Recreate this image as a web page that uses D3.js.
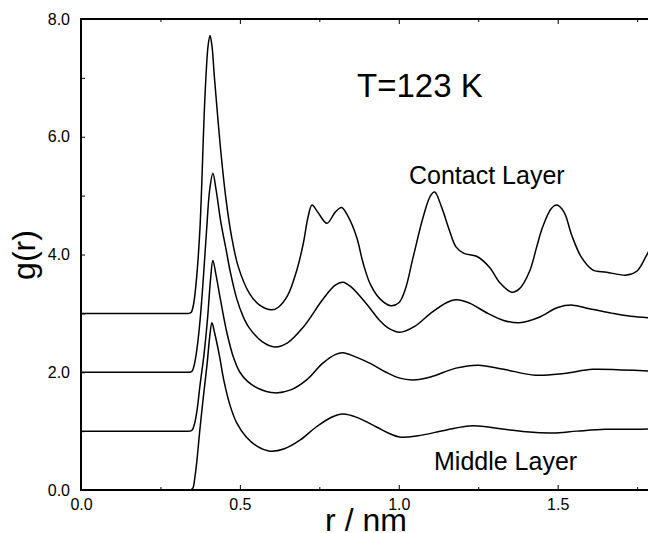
<!DOCTYPE html>
<html>
<head>
<meta charset="utf-8">
<script src="https://cdn.jsdelivr.net/npm/d3@7"></script>
<style>
	body { margin: 0; background: #fff; }
	svg { display: block; font-family: "Liberation Sans", Arial, Helvetica, sans-serif; }
	.tick line { stroke: #000; stroke-width: 1; }
	.tick text { font-size: 16px; fill: #000; }
</style>
</head>
<body>
<script>
// g(r) curves as drawn (each layer is shifted up by one unit)
const middleLayer = [
	[0, 0], [0.3, 0], [0.33, 0], [0.345, 0], [0.352, 0.03], [0.358, 0.2], [0.364, 0.46], [0.374, 1.02],
	[0.385, 1.58], [0.397, 2.15], [0.405, 2.6], [0.412, 2.84], [0.42, 2.68], [0.435, 2.3], [0.45, 1.85],
	[0.47, 1.42], [0.49, 1.14], [0.52, 0.9], [0.555, 0.74], [0.594, 0.66], [0.64, 0.7], [0.69, 0.85],
	[0.74, 1.07], [0.79, 1.24], [0.824, 1.29], [0.87, 1.23], [0.93, 1.07], [0.97, 0.96], [1.003, 0.9],
	[1.06, 0.92], [1.15, 1.02], [1.233, 1.09], [1.32, 1.04], [1.4, 0.99], [1.484, 0.97], [1.56, 1.0],
	[1.65, 1.03], [1.72, 1.03], [1.8, 1.04]
];
const layer2 = [
	[0, 1], [0.3, 1], [0.33, 1], [0.343, 1], [0.35, 1.02], [0.357, 1.12], [0.365, 1.35], [0.375, 1.8],
	[0.387, 2.3], [0.398, 2.9], [0.408, 3.6], [0.415, 3.9], [0.425, 3.65], [0.44, 3.2], [0.46, 2.65],
	[0.48, 2.25], [0.5, 2.0], [0.525, 1.84], [0.56, 1.72], [0.61, 1.65], [0.66, 1.7], [0.71, 1.87],
	[0.76, 2.15], [0.8, 2.3], [0.824, 2.33], [0.86, 2.27], [0.91, 2.15], [0.96, 2.0], [1.003, 1.9],
	[1.045, 1.87], [1.1, 1.92], [1.18, 2.07], [1.25, 2.12], [1.33, 2.05], [1.43, 1.95], [1.52, 1.98],
	[1.61, 2.05], [1.7, 2.04], [1.8, 2.02]
];
const layer3 = [
	[0, 2], [0.3, 2], [0.33, 2], [0.343, 2], [0.35, 2.02], [0.357, 2.14], [0.365, 2.4], [0.375, 2.9],
	[0.385, 3.6], [0.395, 4.4], [0.405, 5.1], [0.415, 5.38], [0.425, 5.1], [0.44, 4.55], [0.456, 4.1],
	[0.47, 3.7], [0.49, 3.25], [0.51, 2.95], [0.53, 2.75], [0.57, 2.52], [0.61, 2.43], [0.65, 2.5],
	[0.7, 2.77], [0.76, 3.23], [0.8, 3.48], [0.824, 3.53], [0.85, 3.45], [0.9, 3.15], [0.94, 2.88],
	[0.97, 2.74], [1.003, 2.68], [1.05, 2.78], [1.1, 3.0], [1.15, 3.18], [1.18, 3.23], [1.22, 3.18],
	[1.28, 3.0], [1.33, 2.88], [1.38, 2.84], [1.44, 2.93], [1.5, 3.1], [1.547, 3.14], [1.6, 3.08],
	[1.673, 3.0], [1.73, 2.95], [1.8, 2.92]
];
const contactLayer = [
	[0, 3], [0.3, 3], [0.33, 3], [0.34, 3], [0.347, 3.02], [0.354, 3.15], [0.362, 3.5], [0.374, 4.41],
	[0.39, 6.67], [0.4, 7.55], [0.406, 7.72], [0.412, 7.55], [0.42, 7.0], [0.44, 5.75], [0.456, 4.95],
	[0.474, 4.3], [0.495, 3.79], [0.53, 3.34], [0.56, 3.15], [0.6, 3.06], [0.62, 3.1], [0.65, 3.3],
	[0.68, 3.75], [0.7, 4.2], [0.715, 4.65], [0.727, 4.84], [0.745, 4.72], [0.774, 4.53], [0.8, 4.72],
	[0.82, 4.8], [0.84, 4.65], [0.867, 4.3], [0.888, 3.85], [0.91, 3.5], [0.94, 3.25], [0.975, 3.13],
	[1.0, 3.18], [1.02, 3.4], [1.045, 3.95], [1.077, 4.64], [1.1, 5.0], [1.113, 5.06], [1.135, 4.8],
	[1.16, 4.4], [1.18, 4.13], [1.205, 4.02], [1.245, 3.97], [1.286, 3.78], [1.318, 3.52], [1.355, 3.36],
	[1.38, 3.42], [1.412, 3.72], [1.434, 4.13], [1.453, 4.47], [1.48, 4.78], [1.497, 4.84], [1.52, 4.72],
	[1.544, 4.33], [1.575, 3.95], [1.61, 3.74], [1.654, 3.7], [1.717, 3.65], [1.75, 3.72], [1.78, 3.99],
	[1.8, 4.2]
];

const xMajor = [0, 0.5, 1.0, 1.5];
const xMinor = [0.25, 0.75, 1.25, 1.75];
const yMajor = [0, 2, 4, 6, 8];
const yMinor = [1, 3, 5, 7];

const width = 648;
const height = 533;
const plotLeft = 81, plotRight = 653, plotTop = 19, plotBottom = 490;

let x = d3.scaleLinear().domain([0, 1.8]).range([plotLeft, plotRight]);
let y = d3.scaleLinear().domain([0, 8]).range([plotBottom, plotTop]);

let svg = d3.select("body")
	.append("svg")
		.attr("width", width)
		.attr("height", height)

// AXES
function noDomain(g) {
	g.select(".domain").remove()
}

svg.append("g")
	.attr("transform", `translate(0,${plotBottom})`)
	.call(d3.axisBottom(x).tickValues(xMajor).tickSize(-5).tickPadding(9).tickFormat(d3.format(".1f")))
	.call(noDomain)
svg.append("g")
	.attr("transform", `translate(0,${plotBottom})`)
	.call(d3.axisBottom(x).tickValues(xMinor).tickSize(-3).tickFormat(""))
	.call(noDomain)
svg.append("g")
	.attr("transform", `translate(0,${plotTop})`)
	.call(d3.axisTop(x).tickValues(xMajor).tickSize(-5).tickFormat(""))
	.call(noDomain)
svg.append("g")
	.attr("transform", `translate(0,${plotTop})`)
	.call(d3.axisTop(x).tickValues(xMinor).tickSize(-3).tickFormat(""))
	.call(noDomain)

svg.append("g")
	.attr("transform", `translate(${plotLeft},0)`)
	.call(d3.axisLeft(y).tickValues(yMajor).tickSize(-4).tickPadding(11).tickFormat(d3.format(".1f")))
	.call(noDomain)
svg.append("g")
	.attr("transform", `translate(${plotLeft},0)`)
	.call(d3.axisLeft(y).tickValues(yMinor).tickSize(-4).tickFormat(""))
	.call(noDomain)

// frame
svg.append("rect")
	.attr("x", plotLeft)
	.attr("y", plotTop)
	.attr("width", plotRight - plotLeft)
	.attr("height", plotBottom - plotTop)
	.attr("fill", "none")
	.attr("stroke", "#000")
	.attr("stroke-width", 2)

// CURVES
let line = d3.line()
	.x(d => x(d[0]))
	.y(d => y(d[1]))
	.curve(d3.curveCatmullRom.alpha(0.5))

svg.selectAll("path.gr")
	.data([middleLayer, layer2, layer3, contactLayer])
	.enter()
	.append("path")
		.attr("class", "gr")
		.attr("d", line)
		.attr("fill", "none")
		.attr("stroke", "#000")
		.attr("stroke-width", 1.5)
		.attr("stroke-linejoin", "round")

// LABELS
svg.append("text")
	.attr("transform", "translate(35,255) rotate(-90)")
	.attr("text-anchor", "middle")
	.style("font-size", "32px")
	.text("g(r)")

svg.append("text")
	.attr("x", 366)
	.attr("y", 531)
	.attr("text-anchor", "middle")
	.style("font-size", "32px")
	.text("r / nm")

svg.append("text")
	.attr("x", 357)
	.attr("y", 97)
	.style("font-size", "33px")
	.text("T=123 K")

svg.append("text")
	.attr("x", 409)
	.attr("y", 184)
	.style("font-size", "25px")
	.text("Contact Layer")

svg.append("text")
	.attr("x", 434)
	.attr("y", 470)
	.style("font-size", "25px")
	.text("Middle Layer")
</script>
</body>
</html>
